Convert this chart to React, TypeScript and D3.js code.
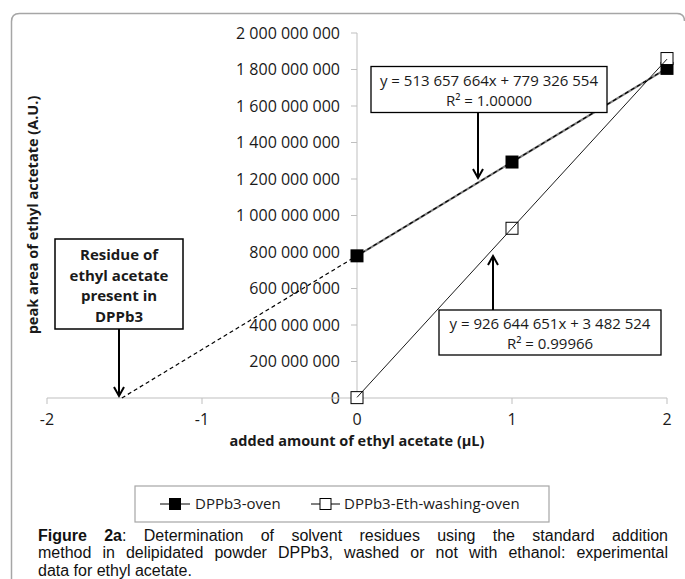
import React, { useEffect, useRef } from "react";
import * as d3 from "d3";

const xTicks = [-2, -1, 0, 1, 2];
const yTicks = [0, 200e6, 400e6, 600e6, 800e6, 1000e6, 1200e6, 1400e6, 1600e6, 1800e6, 2000e6];
const doses = [0, 1, 2];
const ovenValues = [779e6, 1293e6, 1806e6];
const washValues = [2e6, 930e6, 1860e6];
const ovenSlope = 513657664;
const ovenIntercept = 779326554;
const washSlope = 926644651;
const washIntercept = 3482524;
const seriesNames = ["DPPb3-oven", "DPPb3-Eth-washing-oven"];
const ovenEquation = ["y = 513 657 664x + 779 326 554", "R² = 1.00000"];
const washEquation = ["y = 926 644 651x + 3 482 524", "R² = 0.99966"];
const residueLabel = ["Residue of", "ethyl acetate", "present in", "DPPb3"];
const xTitle = "added amount of ethyl acetate (µL)";
const yTitle = "peak area of ethyl actetate (A.U.)";
const captionBold = "Figure 2a";
const captionLine1 = ": Determination of solvent residues using the standard addition";
const captionLine2 = "method in delipidated powder DPPb3, washed or not with ethanol: experimental";
const captionLine3 = "data for ethyl acetate.";

const FONT = "'Open Sans', sans-serif";
const CAP_FONT = "'Liberation Sans Narrow', 'Liberation Sans', Arial, sans-serif";

export default function App() {
  const capRef = useRef<SVGGElement>(null);
  const x = d3.scaleLinear().domain([-2, 2]).range([47, 667]);
  const y = d3.scaleLinear().domain([0, 2e9]).range([398, 33]);
  const fmt = (v: number) => d3.format(",")(v).replace(/,/g, " ");

  const line = d3
    .line<[number, number]>()
    .x((d) => x(d[0]))
    .y((d) => y(d[1]));

  const ovenPts: [number, number][] = doses.map((d, i) => [d, ovenValues[i]]);
  const washPts: [number, number][] = doses.map((d, i) => [d, washValues[i]]);
  const xInt = -ovenIntercept / ovenSlope;
  const ovenTrend: [number, number][] = [
    [xInt, 0],
    [2, ovenIntercept + ovenSlope * 2],
  ];
  const washTrend: [number, number][] = [
    [0, washIntercept],
    [2, washIntercept + washSlope * 2],
  ];

  const capLeft = 38;
  const capRight = 668;

  useEffect(() => {
    const g = capRef.current;
    if (!g) return;
    d3.select(g)
      .selectAll<SVGTextElement, unknown>("text.just")
      .each(function () {
        const t = this as SVGTextElement;
        t.setAttribute("word-spacing", "0");
        t.removeAttribute("textLength");
        const w = t.getComputedTextLength();
        const txt = t.textContent || "";
        const spaces = (txt.match(/ /g) || []).length;
        const extra = capRight - capLeft - w;
        if (extra >= 0 && spaces > 0) {
          t.setAttribute("word-spacing", String(extra / spaces));
        } else {
          t.setAttribute("textLength", String(capRight - capLeft));
          t.setAttribute("lengthAdjust", "spacingAndGlyphs");
        }
      });
  }, []);

  const ms = 13;
  const axisColor = "#bfbfbf";
  const textColor = "#1a1a1a";
  const legY = 504;

  const arrowHead = (xx: number, yy: number, dir: number) =>
    `M${xx - 5},${yy - dir * 9} L${xx},${yy} L${xx + 5},${yy - dir * 9}`;

  return (
    <svg
      width={685}
      height={579}
      style={{ position: "absolute", left: 0, top: 0, background: "#fff" }}
      fontFamily={FONT}
    >
      <rect x={0} y={0} width={685} height={579} fill="#fff" />
      {/* frame */}
      <path
        d="M11.5,579 L11.5,21.5 Q11.5,13.5 19.5,13.5 L677,13.5 Q684.5,13.5 684.5,21"
        fill="none"
        stroke="#a6a6a6"
        strokeWidth={1.5}
      />

      {/* y axis */}
      <line x1={x(0)} x2={x(0)} y1={y(2e9)} y2={y(0)} stroke={axisColor} strokeWidth={1} />
      {yTicks.map((t) => (
        <g key={t}>
          <line x1={x(0) - 6} x2={x(0)} y1={y(t)} y2={y(t)} stroke={axisColor} />
          <text x={340} y={y(t)} dy="0.35em" textAnchor="end" fontSize={16} fill={textColor}>
            {fmt(t)}
          </text>
        </g>
      ))}
      {/* x axis */}
      <line x1={x(-2)} x2={x(2)} y1={y(0)} y2={y(0)} stroke={axisColor} strokeWidth={1.2} />
      {xTicks.map((t) => (
        <g key={t}>
          <line x1={x(t)} x2={x(t)} y1={y(0)} y2={y(0) + 6} stroke={axisColor} />
          <text x={x(t)} y={419} dy="0.35em" textAnchor="middle" fontSize={16} fill={textColor}>
            {t}
          </text>
        </g>
      ))}

      <text x={357} y={441} dy="0.35em" textAnchor="middle" fontSize={14.5} fontWeight="bold" fill={textColor}>
        {xTitle}
      </text>
      <text
        transform={`translate(33,215) rotate(-90)`}
        dy="0.35em"
        textAnchor="middle"
        fontSize={14.5}
        fontWeight="bold"
        fill={textColor}
      >
        {yTitle}
      </text>

      {/* oven series line */}
      <path d={line(ovenPts) || ""} fill="none" stroke="#7f7f7f" strokeWidth={2.2} />
      {ovenPts.map((p, i) => (
        <rect key={i} x={x(p[0]) - ms / 2} y={y(p[1]) - ms / 2} width={ms} height={ms} fill="#000" />
      ))}
      <path d={line(ovenTrend) || ""} fill="none" stroke="#000" strokeWidth={1.2} strokeDasharray="4,3" />

      {/* wash series */}
      {washPts.map((p, i) => (
        <rect
          key={i}
          x={x(p[0]) - (ms - 1) / 2}
          y={y(p[1]) - (ms - 1) / 2}
          width={ms - 1}
          height={ms - 1}
          fill="#fff"
          stroke="#000"
          strokeWidth={1}
        />
      ))}
      <path d={line(washTrend) || ""} fill="none" stroke="#000" strokeWidth={0.9} />

      {/* callout 1 */}
      <rect x={371} y={66.5} width={236} height={46} fill="#fff" stroke="#000" strokeWidth={1.3} />
      {ovenEquation.map((s, i) => (
        <text key={i} x={489} y={80.5 + i * 20} dy="0.35em" textAnchor="middle" fontSize={15} fill={textColor}>
          {s}
        </text>
      ))}
      <line x1={478} x2={478} y1={112.5} y2={178} stroke="#000" strokeWidth={2} />
      <path d={arrowHead(478, 178, 1)} fill="none" stroke="#000" strokeWidth={2} />

      {/* callout 2 */}
      <rect x={439} y={310} width={222} height={45} fill="#fff" stroke="#000" strokeWidth={1.3} />
      {washEquation.map((s, i) => (
        <text key={i} x={550} y={323.5 + i * 20} dy="0.35em" textAnchor="middle" fontSize={15} fill={textColor}>
          {s}
        </text>
      ))}
      <line x1={493} x2={493} y1={310} y2={256} stroke="#000" strokeWidth={2} />
      <path d={arrowHead(493, 256, -1)} fill="none" stroke="#000" strokeWidth={2} />

      {/* residue box */}
      <rect x={55} y={239} width={128} height={90} fill="#fff" stroke="#000" strokeWidth={1.5} />
      {residueLabel.map((s, i) => (
        <text key={i} x={119} y={255 + i * 20.5} dy="0.35em" textAnchor="middle" fontSize={15} fontWeight="bold" fill={textColor}>
          {s}
        </text>
      ))}
      <line x1={119} x2={119} y1={329} y2={396} stroke="#000" strokeWidth={2} />
      <path d={arrowHead(119, 396, 1)} fill="none" stroke="#000" strokeWidth={2} />

      {/* legend */}
      <rect x={135} y={legY - 18} width={414} height={36} fill="#fff" stroke="#a6a6a6" strokeWidth={1.2} />
      <line x1={160} x2={190} y1={legY} y2={legY} stroke="#000" strokeWidth={1} />
      <rect x={169} y={legY - 6} width={12} height={12} fill="#000" />
      <text x={195} y={legY} dy="0.35em" fontSize={15} fill={textColor}>
        {seriesNames[0]}
      </text>
      <line x1={311} x2={340} y1={legY} y2={legY} stroke="#000" strokeWidth={1} />
      <rect x={320} y={legY - 5.5} width={11} height={11} fill="#fff" stroke="#000" />
      <text x={344} y={legY} dy="0.35em" fontSize={15} fill={textColor}>
        {seriesNames[1]}
      </text>

      {/* caption */}
      <g ref={capRef} fontFamily={CAP_FONT} fontSize={16} fill="#111">
        <text className="just" x={capLeft} y={540.5}>
          <tspan fontWeight="bold">{captionBold}</tspan>
          <tspan>{captionLine1}</tspan>
        </text>
        <text className="just" x={capLeft} y={558}>
          {captionLine2}
        </text>
        <text x={capLeft} y={575.5}>
          {captionLine3}
        </text>
      </g>
    </svg>
  );
}
